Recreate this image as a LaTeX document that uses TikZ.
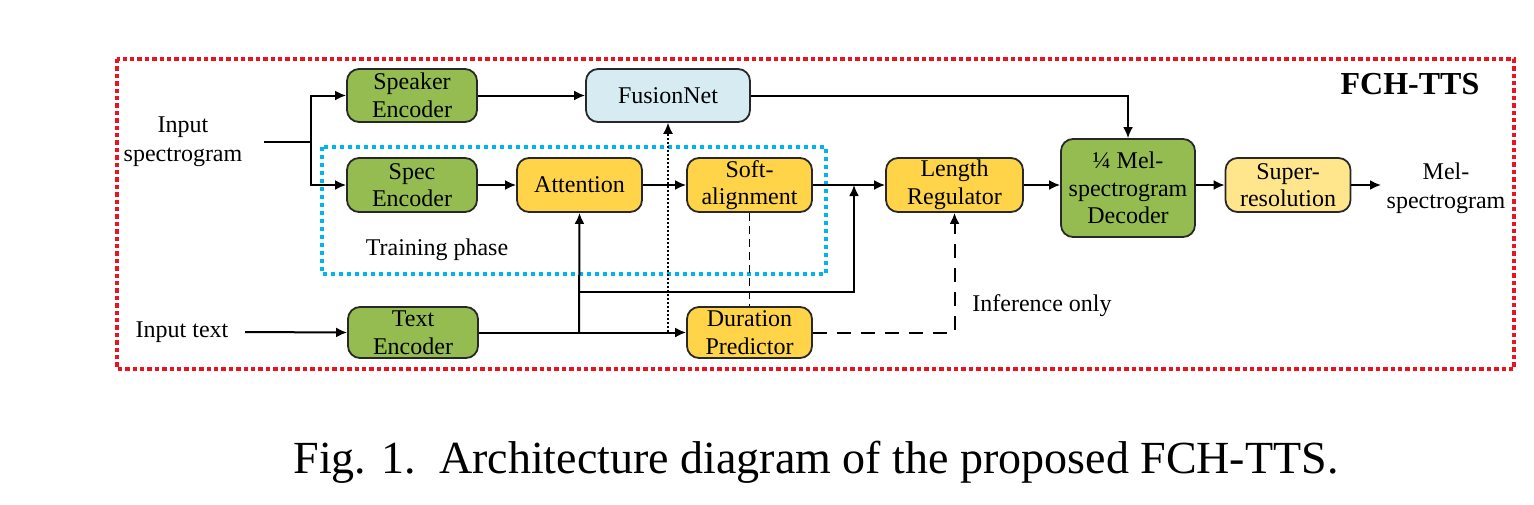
\documentclass[tikz,border=0pt]{standalone}
\usepackage{fontspec}
\setmainfont{Liberation Serif}
\usetikzlibrary{arrows.meta}
\definecolor{gfill}{RGB}{148,188,80}
\definecolor{yfill}{RGB}{255,212,72}
\definecolor{lyfill}{RGB}{255,229,140}
\definecolor{bfill}{RGB}{214,236,242}
\definecolor{redbox}{RGB}{235,20,30}
\definecolor{bluebox}{RGB}{0,180,240}
\definecolor{edge}{RGB}{40,40,40}
\tikzset{
  blk/.style={draw=edge, line width=0.9pt, rounded corners=6pt, align=center,
    inner sep=0pt, font=\fontsize{12}{13.8}\selectfont},
  gbox/.style={blk, fill=gfill},
  ybox/.style={blk, fill=yfill},
  lybox/.style={blk, fill=lyfill},
  bbox/.style={blk, fill=bfill},
  lbl/.style={align=center, inner sep=0pt, font=\fontsize{12}{14.5}\selectfont},
  tip/.style={-{Latex[length=5.5pt,width=5pt]}},
  arr/.style={line width=1pt, tip},
  ln/.style={line width=1pt},
}
\begin{document}
\begin{tikzpicture}[x=0.5pt,y=-0.5pt]
\useasboundingbox (0,0) rectangle (1534,504);
% frames
\draw[redbox, line width=1.6pt, dash pattern=on 2.2pt off 1.5pt] (117,59) rectangle (1514,369);
\draw[bluebox, line width=1.6pt, dash pattern=on 2pt off 2pt] (322,147) rectangle (826,274);
\node[font=\fontsize{16}{18}\bfseries\selectfont, inner sep=0pt] (title) at (1410,84) {FCH-TTS};
\node[lbl] (train) at (437,250) {Training phase};
\node[lbl] (inf) at (1042,306) {Inference only};
% blocks
\node[gbox, minimum width=65pt, minimum height=26.5pt] (spk) at (412,95.5) {Speaker\\Encoder};
\node[gbox, minimum width=65pt, minimum height=27pt] (spec) at (412,185) {Spec\\Encoder};
\node[gbox, minimum width=65pt, minimum height=25.5pt] (txt) at (413,332.5) {Text\\Encoder};
\node[ybox, minimum width=62.5pt, minimum height=27pt] (att) at (579.5,185) {Attention};
\node[bbox, minimum width=82pt, minimum height=26.5pt] (fus) at (668,95.5) {FusionNet};
\node[ybox, minimum width=62.5pt, minimum height=27pt] (soft) at (749.5,185) {Soft-\\alignment};
\node[ybox, minimum width=62.5pt, minimum height=25.5pt] (dur) at (749.5,332.5) {Duration\\Predictor};
\node[ybox, minimum width=68.5pt, minimum height=27pt] (len) at (954.5,185) {Length\\Regulator};
\node[gbox, minimum width=67pt, minimum height=49pt] (dec) at (1128,188) {¼ Mel-\\spectrogram\\Decoder};
\node[lybox, minimum width=62.5pt, minimum height=27pt] (sup) at (1288,185) {Super-\\resolution};
% io labels
\node[lbl] (inspec) at (183,142) {Input\\spectrogram};
\node[lbl] (intext) at (182,332) {Input text};
\node[lbl] (mel) at (1446,188) {Mel-\\spectrogram};
% coordinates
\coordinate (j1) at (311,142);
\coordinate (s0) at (264,142);
\coordinate (t0) at (245,332);
\coordinate (m1) at (1381,185);
\coordinate (j2) at (579,332);
\coordinate (j3) at (579,292);
\coordinate (j4) at (854,185);
\coordinate (j5) at (668,332);
% connectors
\draw[ln] (s0) -- (j1);
\draw[arr] (j1) |- (spk.west);
\draw[arr] (j1) |- (spec.west);
\draw[arr] (spk) -- (fus);
\draw[arr] (fus.east) -| (dec.north);
\draw[arr] (spec) -- (att);
\draw[arr] (att) -- (soft);
\draw[arr] (soft) -- (len);
\draw[arr] (len.east) -- (len.east -| dec.west);
\draw[arr] (sup.west -| dec.east) -- (sup.west);
\draw[arr] (sup.east) -- (m1);
\draw[arr] (t0) -- (txt.west);
\draw[arr] (txt.east) -- (dur.west);
\draw[arr] (j2) -- (att.south);
\draw[arr] (j3) -| (j4);
\draw[line width=0.6pt, dash pattern=on 0.8pt off 1.2pt, tip] (j5) -- (fus.south);
\draw[line width=0.9pt, dash pattern=on 4pt off 2.5pt] (soft.south) -- (dur.north);
\draw[line width=1pt, dash pattern=on 7pt off 5pt, tip] (dur.east) -| (len.south);
% caption
\node[font=\fontsize{23}{26}\selectfont, anchor=base, inner sep=0pt] (cap) at (816,473) {Fig. 1.\hspace{0.5em}Architecture diagram of the proposed FCH-TTS.};
\end{tikzpicture}
\end{document}
